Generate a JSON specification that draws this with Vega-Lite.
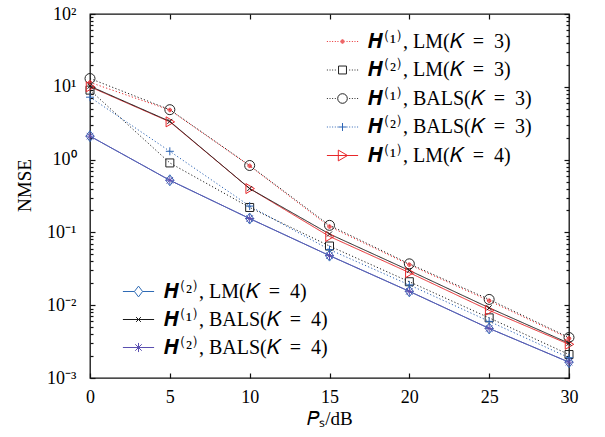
{
  "$schema": "https://vega.github.io/schema/vega-lite/v6.json",
  "width": 479,
  "height": 364,
  "autosize": {"type": "none"},
  "padding": {"left": 90, "top": 14, "right": 36, "bottom": 59},
  "background": "white",
  "config": {
    "font": "Liberation Serif",
    "view": {"stroke": "#111", "strokeWidth": 1.3},
    "axis": {
      "labelFont": "Liberation Serif",
      "labelFontSize": 18,
      "labelColor": "#000",
      "titleFont": "Liberation Serif",
      "titleFontSize": 19,
      "titleFontWeight": "normal",
      "titleColor": "#000",
      "domain": false,
      "tickColor": "#111",
      "tickWidth": 1.2,
      "grid": false,
      "labelFlush": false,
      "labelOverlap": false
    },
    "legend": {
      "labelFont": "Liberation Serif",
      "labelFontSize": 20,
      "labelColor": "#000",
      "symbolStrokeWidth": 1,
      "padding": 0,
      "labelOffset": 13,
      "labelLimit": 400
    }
  },
  "data": {
    "values": [
      {"series": "𝑯⁽¹⁾, LM(𝐾\u2002=\u20023)", "x": 0, "y": 11.5},
      {"series": "𝑯⁽¹⁾, LM(𝐾\u2002=\u20023)", "x": 5, "y": 4.8},
      {"series": "𝑯⁽¹⁾, LM(𝐾\u2002=\u20023)", "x": 10, "y": 0.82},
      {"series": "𝑯⁽¹⁾, LM(𝐾\u2002=\u20023)", "x": 15, "y": 0.12},
      {"series": "𝑯⁽¹⁾, LM(𝐾\u2002=\u20023)", "x": 20, "y": 0.036},
      {"series": "𝑯⁽¹⁾, LM(𝐾\u2002=\u20023)", "x": 25, "y": 0.0115},
      {"series": "𝑯⁽¹⁾, LM(𝐾\u2002=\u20023)", "x": 30, "y": 0.0035},
      {"series": "𝑯⁽²⁾, LM(𝐾\u2002=\u20023)", "x": 0, "y": 9.0},
      {"series": "𝑯⁽²⁾, LM(𝐾\u2002=\u20023)", "x": 5, "y": 0.9},
      {"series": "𝑯⁽²⁾, LM(𝐾\u2002=\u20023)", "x": 10, "y": 0.22},
      {"series": "𝑯⁽²⁾, LM(𝐾\u2002=\u20023)", "x": 15, "y": 0.065},
      {"series": "𝑯⁽²⁾, LM(𝐾\u2002=\u20023)", "x": 20, "y": 0.021},
      {"series": "𝑯⁽²⁾, LM(𝐾\u2002=\u20023)", "x": 25, "y": 0.0067},
      {"series": "𝑯⁽²⁾, LM(𝐾\u2002=\u20023)", "x": 30, "y": 0.0021},
      {"series": "𝑯⁽¹⁾, BALS(𝐾\u2002=\u20023)", "x": 0, "y": 13.0},
      {"series": "𝑯⁽¹⁾, BALS(𝐾\u2002=\u20023)", "x": 5, "y": 4.85},
      {"series": "𝑯⁽¹⁾, BALS(𝐾\u2002=\u20023)", "x": 10, "y": 0.83},
      {"series": "𝑯⁽¹⁾, BALS(𝐾\u2002=\u20023)", "x": 15, "y": 0.125},
      {"series": "𝑯⁽¹⁾, BALS(𝐾\u2002=\u20023)", "x": 20, "y": 0.037},
      {"series": "𝑯⁽¹⁾, BALS(𝐾\u2002=\u20023)", "x": 25, "y": 0.012},
      {"series": "𝑯⁽¹⁾, BALS(𝐾\u2002=\u20023)", "x": 30, "y": 0.0036},
      {"series": "𝑯⁽²⁾, BALS(𝐾\u2002=\u20023)", "x": 0, "y": 7.2},
      {"series": "𝑯⁽²⁾, BALS(𝐾\u2002=\u20023)", "x": 5, "y": 1.3},
      {"series": "𝑯⁽²⁾, BALS(𝐾\u2002=\u20023)", "x": 10, "y": 0.23},
      {"series": "𝑯⁽²⁾, BALS(𝐾\u2002=\u20023)", "x": 15, "y": 0.058},
      {"series": "𝑯⁽²⁾, BALS(𝐾\u2002=\u20023)", "x": 20, "y": 0.019},
      {"series": "𝑯⁽²⁾, BALS(𝐾\u2002=\u20023)", "x": 25, "y": 0.006},
      {"series": "𝑯⁽²⁾, BALS(𝐾\u2002=\u20023)", "x": 30, "y": 0.0019},
      {"series": "𝑯⁽¹⁾, LM(𝐾\u2002=\u20024)", "x": 0, "y": 10.0},
      {"series": "𝑯⁽¹⁾, LM(𝐾\u2002=\u20024)", "x": 5, "y": 3.3},
      {"series": "𝑯⁽¹⁾, LM(𝐾\u2002=\u20024)", "x": 10, "y": 0.4},
      {"series": "𝑯⁽¹⁾, LM(𝐾\u2002=\u20024)", "x": 15, "y": 0.088},
      {"series": "𝑯⁽¹⁾, LM(𝐾\u2002=\u20024)", "x": 20, "y": 0.028},
      {"series": "𝑯⁽¹⁾, LM(𝐾\u2002=\u20024)", "x": 25, "y": 0.0085},
      {"series": "𝑯⁽¹⁾, LM(𝐾\u2002=\u20024)", "x": 30, "y": 0.0029},
      {"series": "𝑯⁽²⁾, LM(𝐾\u2002=\u20024)", "x": 0, "y": 2.1},
      {"series": "𝑯⁽²⁾, LM(𝐾\u2002=\u20024)", "x": 5, "y": 0.52},
      {"series": "𝑯⁽²⁾, LM(𝐾\u2002=\u20024)", "x": 10, "y": 0.155},
      {"series": "𝑯⁽²⁾, LM(𝐾\u2002=\u20024)", "x": 15, "y": 0.048},
      {"series": "𝑯⁽²⁾, LM(𝐾\u2002=\u20024)", "x": 20, "y": 0.0155},
      {"series": "𝑯⁽²⁾, LM(𝐾\u2002=\u20024)", "x": 25, "y": 0.0048},
      {"series": "𝑯⁽²⁾, LM(𝐾\u2002=\u20024)", "x": 30, "y": 0.00165},
      {"series": "𝑯⁽¹⁾, BALS(𝐾\u2002=\u20024)", "x": 0, "y": 10.2},
      {"series": "𝑯⁽¹⁾, BALS(𝐾\u2002=\u20024)", "x": 5, "y": 3.35},
      {"series": "𝑯⁽¹⁾, BALS(𝐾\u2002=\u20024)", "x": 10, "y": 0.4},
      {"series": "𝑯⁽¹⁾, BALS(𝐾\u2002=\u20024)", "x": 15, "y": 0.095},
      {"series": "𝑯⁽¹⁾, BALS(𝐾\u2002=\u20024)", "x": 20, "y": 0.03},
      {"series": "𝑯⁽¹⁾, BALS(𝐾\u2002=\u20024)", "x": 25, "y": 0.0092},
      {"series": "𝑯⁽¹⁾, BALS(𝐾\u2002=\u20024)", "x": 30, "y": 0.003},
      {"series": "𝑯⁽²⁾, BALS(𝐾\u2002=\u20024)", "x": 0, "y": 2.1},
      {"series": "𝑯⁽²⁾, BALS(𝐾\u2002=\u20024)", "x": 5, "y": 0.52},
      {"series": "𝑯⁽²⁾, BALS(𝐾\u2002=\u20024)", "x": 10, "y": 0.155},
      {"series": "𝑯⁽²⁾, BALS(𝐾\u2002=\u20024)", "x": 15, "y": 0.048},
      {"series": "𝑯⁽²⁾, BALS(𝐾\u2002=\u20024)", "x": 20, "y": 0.0155},
      {"series": "𝑯⁽²⁾, BALS(𝐾\u2002=\u20024)", "x": 25, "y": 0.0048},
      {"series": "𝑯⁽²⁾, BALS(𝐾\u2002=\u20024)", "x": 30, "y": 0.00165}
    ]
  },
  "layer": [
    {
      "mark": {"type": "line", "strokeWidth": 1, "clip": false},
      "encoding": {
        "x": {
          "field": "x", "type": "quantitative",
          "scale": {"domain": [0, 30], "nice": false, "zero": false},
          "axis": {"orient": "bottom", "values": [0, 5, 10, 15, 20, 25, 30], "offset": -5, "tickSize": 5, "labelPadding": 10, "title": "𝑃ₛ/dB", "titlePadding": 3}
        },
        "y": {
          "field": "y", "type": "quantitative",
          "scale": {"type": "log", "domain": [0.001, 100], "nice": false},
          "axis": {
            "orient": "left",
            "values": [0.001, 0.01, 0.1, 1, 10, 100],
            "offset": -5,
            "tickSize": 5,
            "labelExpr": "datum.value == 100 ? '10²' : datum.value == 10 ? '10¹' : datum.value == 1 ? '10⁰' : datum.value == 0.1 ? '10⁻¹' : datum.value == 0.01 ? '10⁻²' : '10⁻³'",
            "labelPadding": 14,
            "title": "NMSE",
            "titlePadding": 12,
            "titleY": 171
          }
        },
        "color": {
          "field": "series", "type": "nominal", "legend": null,
          "scale": {
            "domain": ["𝑯⁽¹⁾, LM(𝐾\u2002=\u20023)", "𝑯⁽²⁾, LM(𝐾\u2002=\u20023)", "𝑯⁽¹⁾, BALS(𝐾\u2002=\u20023)", "𝑯⁽²⁾, BALS(𝐾\u2002=\u20023)", "𝑯⁽¹⁾, LM(𝐾\u2002=\u20024)", "𝑯⁽²⁾, LM(𝐾\u2002=\u20024)", "𝑯⁽¹⁾, BALS(𝐾\u2002=\u20024)", "𝑯⁽²⁾, BALS(𝐾\u2002=\u20024)"],
            "range": ["#e8272a", "#222222", "#222222", "#2b63b4", "#e8272a", "#2f6bb5", "#1a1a1a", "#5a4fb0"]
          }
        },
        "strokeDash": {
          "field": "series", "type": "nominal", "legend": null,
          "scale": {
            "domain": ["𝑯⁽¹⁾, LM(𝐾\u2002=\u20023)", "𝑯⁽²⁾, LM(𝐾\u2002=\u20023)", "𝑯⁽¹⁾, BALS(𝐾\u2002=\u20023)", "𝑯⁽²⁾, BALS(𝐾\u2002=\u20023)", "𝑯⁽¹⁾, LM(𝐾\u2002=\u20024)", "𝑯⁽²⁾, LM(𝐾\u2002=\u20024)", "𝑯⁽¹⁾, BALS(𝐾\u2002=\u20024)", "𝑯⁽²⁾, BALS(𝐾\u2002=\u20024)"],
            "range": [[1.2, 2.2], [1.2, 2.2], [1.2, 2.2], [1.2, 2.2], [1, 0], [1, 0], [1, 0], [1, 0]]
          }
        }
      }
    },
    {
      "mark": {"type": "point", "filled": false, "opacity": 1, "strokeWidth": 1, "size": 100, "clip": false},
      "encoding": {
        "x": {
          "field": "x", "type": "quantitative",
          "scale": {"domain": [0, 30], "nice": false, "zero": false},
          "axis": {"orient": "top", "values": [0, 5, 10, 15, 20, 25, 30], "offset": -5, "tickSize": 5, "labels": false, "title": null}
        },
        "y": {
          "field": "y", "type": "quantitative",
          "scale": {"type": "log", "domain": [0.001, 100], "nice": false},
          "axis": {"orient": "right", "values": [0.001, 0.01, 0.1, 1, 10, 100], "offset": -5, "tickSize": 5, "labels": false, "title": null}
        },
        "color": {"field": "series", "type": "nominal", "legend": null},
        "shape": {
          "field": "series", "type": "nominal", "legend": null,
          "scale": {
            "domain": ["𝑯⁽¹⁾, LM(𝐾\u2002=\u20023)", "𝑯⁽²⁾, LM(𝐾\u2002=\u20023)", "𝑯⁽¹⁾, BALS(𝐾\u2002=\u20023)", "𝑯⁽²⁾, BALS(𝐾\u2002=\u20023)", "𝑯⁽¹⁾, LM(𝐾\u2002=\u20024)", "𝑯⁽²⁾, LM(𝐾\u2002=\u20024)", "𝑯⁽¹⁾, BALS(𝐾\u2002=\u20024)", "𝑯⁽²⁾, BALS(𝐾\u2002=\u20024)"],
            "range": [
              "M-0.35,0A0.35,0.35 0 1 0 0.35,0A0.35,0.35 0 1 0 -0.35,0ZM-0.15,0A0.15,0.15 0 1 0 0.15,0A0.15,0.15 0 1 0 -0.15,0Z",
              "M-0.8,-0.8H0.8V0.8H-0.8Z",
              "M-1,0A1,1 0 1 0 1,0A1,1 0 1 0 -1,0Z",
              "M-0.8,0H0.8M0,-0.8V0.8",
              "M-0.75,-1L0.95,0L-0.75,1Z",
              "M0,-1.1L0.8,0L0,1.1L-0.8,0Z",
              "M-0.5,-0.5L0.5,0.5M-0.5,0.5L0.5,-0.5",
              "M-0.9,0H0.9M0,-0.9V0.9M-0.65,-0.65L0.65,0.65M-0.65,0.65L0.65,-0.65"
            ]
          }
        }
      }
    },
    {
      "transform": [{"filter": "false"}],
      "mark": {"type": "point", "filled": false, "opacity": 1, "strokeWidth": 1},
      "encoding": {
        "y": {
          "field": "y", "type": "quantitative",
          "scale": {"type": "log", "domain": [0.001, 100], "nice": false},
          "axis": {
            "orient": "left",
            "values": [0.002, 0.003, 0.004, 0.005, 0.006, 0.007, 0.008, 0.009, 0.02, 0.03, 0.04, 0.05, 0.06, 0.07, 0.08, 0.09, 0.2, 0.3, 0.4, 0.5, 0.6, 0.7, 0.8, 0.9, 2, 3, 4, 5, 6, 7, 8, 9, 20, 30, 40, 50, 60, 70, 80, 90],
            "offset": -3, "tickSize": 3, "labels": false, "title": null
          }
        },
        "shape": {
          "field": "series", "type": "nominal",
          "scale": {
            "domain": ["𝑯⁽¹⁾, LM(𝐾\u2002=\u20023)", "𝑯⁽²⁾, LM(𝐾\u2002=\u20023)", "𝑯⁽¹⁾, BALS(𝐾\u2002=\u20023)", "𝑯⁽²⁾, BALS(𝐾\u2002=\u20023)", "𝑯⁽¹⁾, LM(𝐾\u2002=\u20024)"],
            "range": [
              "M-1.3,0h0.08M-1.08,0h0.08M-0.86,0h0.08M-0.64,0h0.08M-0.42,0h0.08M0.34,0h0.08M0.56,0h0.08M0.78,0h0.08M1.0,0h0.08M1.22,0h0.08M-0.14,0A0.14,0.14 0 1 0 0.14,0A0.14,0.14 0 1 0 -0.14,0ZM-0.06,0A0.06,0.06 0 1 0 0.06,0A0.06,0.06 0 1 0 -0.06,0Z",
              "M-1.3,0h0.08M-1.08,0h0.08M-0.86,0h0.08M-0.64,0h0.08M0.56,0h0.08M0.78,0h0.08M1.0,0h0.08M1.22,0h0.08M-0.33,-0.33H0.33V0.33H-0.33Z",
              "M-1.3,0h0.08M-1.08,0h0.08M-0.86,0h0.08M-0.64,0h0.08M0.56,0h0.08M0.78,0h0.08M1.0,0h0.08M1.22,0h0.08M-0.4,0A0.4,0.4 0 1 0 0.4,0A0.4,0.4 0 1 0 -0.4,0Z",
              "M-1.3,0h0.08M-1.08,0h0.08M-0.86,0h0.08M-0.64,0h0.08M-0.42,0h0.08M0.34,0h0.08M0.56,0h0.08M0.78,0h0.08M1.0,0h0.08M1.22,0h0.08M-0.33,0H0.33M0,-0.33V0.33",
              "M-1.3,0H1.3M-0.35,-0.45L0.42,0L-0.35,0.45Z"
            ]
          },
          "legend": {"title": null, "orient": "none", "legendX": 240, "legendY": 15, "symbolSize": 576, "rowPadding": 5.5}
        },
        "stroke": {
          "field": "series", "type": "nominal",
          "scale": {
            "domain": ["𝑯⁽¹⁾, LM(𝐾\u2002=\u20023)", "𝑯⁽²⁾, LM(𝐾\u2002=\u20023)", "𝑯⁽¹⁾, BALS(𝐾\u2002=\u20023)", "𝑯⁽²⁾, BALS(𝐾\u2002=\u20023)", "𝑯⁽¹⁾, LM(𝐾\u2002=\u20024)"],
            "range": ["#e8272a", "#222222", "#222222", "#2b63b4", "#e8272a"]
          },
          "legend": {"title": null, "orient": "none", "legendX": 240, "legendY": 15, "symbolSize": 576, "rowPadding": 5.5}
        }
      }
    },
    {
      "transform": [{"filter": "false"}],
      "mark": {"type": "point", "filled": false, "opacity": 1, "strokeWidth": 1},
      "encoding": {
        "y": {
          "field": "y", "type": "quantitative",
          "scale": {"type": "log", "domain": [0.001, 100], "nice": false},
          "axis": {
            "orient": "right",
            "values": [0.002, 0.003, 0.004, 0.005, 0.006, 0.007, 0.008, 0.009, 0.02, 0.03, 0.04, 0.05, 0.06, 0.07, 0.08, 0.09, 0.2, 0.3, 0.4, 0.5, 0.6, 0.7, 0.8, 0.9, 2, 3, 4, 5, 6, 7, 8, 9, 20, 30, 40, 50, 60, 70, 80, 90],
            "offset": -3, "tickSize": 3, "labels": false, "title": null
          }
        },
        "shape": {
          "field": "series", "type": "nominal",
          "scale": {
            "domain": ["𝑯⁽²⁾, LM(𝐾\u2002=\u20024)", "𝑯⁽¹⁾, BALS(𝐾\u2002=\u20024)", "𝑯⁽²⁾, BALS(𝐾\u2002=\u20024)"],
            "range": [
              "M-1.3,0H-0.34M0.34,0H1.3M0,-0.45L0.34,0L0,0.45L-0.34,0Z",
              "M-1.3,0H1.3M-0.2,-0.2L0.2,0.2M-0.2,0.2L0.2,-0.2",
              "M-1.3,0H1.3M0,-0.38V0.38M-0.27,-0.27L0.27,0.27M-0.27,0.27L0.27,-0.27"
            ]
          },
          "legend": {"title": null, "orient": "none", "legendX": 36, "legendY": 265, "symbolSize": 576, "rowPadding": 5}
        },
        "stroke": {
          "field": "series", "type": "nominal",
          "scale": {
            "domain": ["𝑯⁽²⁾, LM(𝐾\u2002=\u20024)", "𝑯⁽¹⁾, BALS(𝐾\u2002=\u20024)", "𝑯⁽²⁾, BALS(𝐾\u2002=\u20024)"],
            "range": ["#2f6bb5", "#1a1a1a", "#5a4fb0"]
          },
          "legend": {"title": null, "orient": "none", "legendX": 36, "legendY": 265, "symbolSize": 576, "rowPadding": 5}
        }
      }
    }
  ],
  "resolve": {
    "scale": {"shape": "independent", "stroke": "independent"},
    "legend": {"shape": "independent", "stroke": "independent"},
    "axis": {"x": "independent", "y": "independent"}
  }
}
